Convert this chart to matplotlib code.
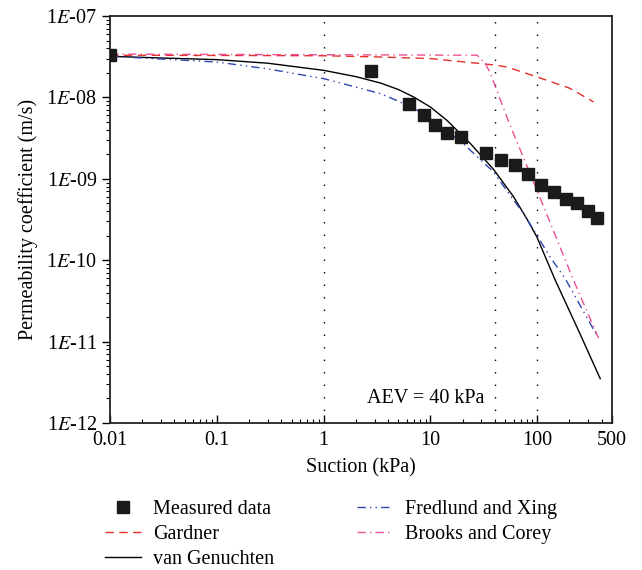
import math
import matplotlib
matplotlib.use("Agg")
import matplotlib.pyplot as plt
import matplotlib.ticker as ticker

plt.rcParams["font.family"] = ["Liberation Serif", "DejaVu Serif"]
plt.rcParams["mathtext.fontset"] = "stix"

# measured data
meas_x = [0.01, 2.75, 6.3, 8.7, 11.0, 14.4, 19.5, 33.4, 45.4, 61.4, 81.2,
          108, 142, 185, 237, 301, 358]
meas_k = [3.3e-8, 2.1e-8, 8.2e-9, 6.0e-9, 4.6e-9, 3.65e-9, 3.26e-9, 2.07e-9,
          1.72e-9, 1.47e-9, 1.16e-9, 8.3e-10, 6.8e-10, 5.7e-10, 5.0e-10,
          4.0e-10, 3.3e-10]

# model curves
gard_x = [0.01, 1, 3, 10, 14.3, 40, 52, 100, 200, 336]
gard_k = [3.3e-8, 3.25e-8, 3.15e-8, 3.0e-8, 2.86e-8, 2.5e-8, 2.36e-8,
          1.78e-8, 1.3e-8, 8.8e-9]

vg_x = [0.01, 0.03, 0.1, 0.3, 1, 2, 3.41, 5, 6.98, 10, 14.3, 23.7, 39, 60,
        80, 99, 147, 250, 388]
vg_k = [3.2e-8, 3.05e-8, 2.91e-8, 2.63e-8, 2.15e-8, 1.8e-8, 1.5e-8, 1.25e-8,
        1.01e-8, 7.6e-9, 5.2e-9, 2.7e-9, 1.3e-9, 6.0e-10, 3.2e-10, 1.93e-10,
        5.7e-11, 1.26e-11, 3.5e-12]

fx_x = [0.01, 0.1, 0.3, 1, 2, 3.41, 5, 8.66, 20.3, 39, 54, 74.5, 132, 183,
        361]
fx_k = [3.2e-8, 2.72e-8, 2.24e-8, 1.7e-8, 1.34e-8, 1.11e-8, 9.0e-9, 6.3e-9,
        2.7e-9, 1.21e-9, 6.6e-10, 3.73e-10, 1.09e-10, 5.9e-11, 1.19e-11]

bc_x = [0.01, 27.3, 32.7, 36.4, 54, 115, 218, 374]
bc_k = [3.4e-8, 3.3e-8, 2.6e-8, 1.96e-8, 5.0e-9, 4.5e-10, 5.7e-11, 1.1e-11]

aev_lines = [1, 40, 100]

fig = plt.figure(figsize=(6.42, 5.70), dpi=100)
ax = fig.add_axes([110 / 642, 1 - 423 / 570, 502 / 642, 407 / 570])

for xv in aev_lines:
    ax.axvline(xv, color="black", linestyle=(0, (1, 8)), linewidth=1.0)

ax.plot(meas_x, meas_k, "s", color="#1a1a1a", markersize=8, label="Measured data",
        zorder=5)
ax.plot(gard_x, gard_k, color="#e2302a", linestyle=(0, (6, 4)), linewidth=1.0,
        label="Gardner")
ax.plot(vg_x, vg_k, color="black", linewidth=1.0, label="van Genuchten")
ax.plot(fx_x, fx_k, color="#2f45b0", linestyle=(0, (6, 3, 1, 3, 1, 3)),
        linewidth=1.0, label="Fredlund and Xing")
ax.plot(bc_x, bc_k, color="#ec4f95", linestyle=(0, (6, 3, 1, 3)), linewidth=1.0,
        label="Brooks and Corey")

ax.set_xscale("log")
ax.set_yscale("log")
ax.set_xlim(0.01, 500)
ax.set_ylim(1e-12, 1e-7)

ax.set_xticks([0.01, 0.1, 1, 10, 100, 500])
ax.set_xticklabels(["0.01", "0.1", "1", "10", "100", "500"])
ax.yaxis.set_major_formatter(ticker.FuncFormatter(
    lambda v, p: "1$\\mathit{E}$-%02d" % round(-math.log10(v))))

ax.tick_params(axis="x", which="both", direction="in", labelsize=14.5, pad=6)
ax.tick_params(axis="y", which="both", direction="out", labelsize=14.5)
ax.tick_params(which="major", length=6, width=1.0)
ax.tick_params(which="minor", length=3, width=0.8)
for s in ax.spines.values():
    s.set_linewidth(1.3)
    s.set_color("#222222")

ax.set_xlabel("Suction (kPa)", fontsize=14.5, labelpad=6)
ax.set_ylabel("Permeability coefficient (m/s)", fontsize=14.5, labelpad=6)

ax.text(2.55, 2.0e-12, "AEV = 40 kPa", fontsize=14.5, va="center", ha="left")

fig.legend(loc="upper left", bbox_to_anchor=(95 / 642, 1 - 490 / 570), ncol=2,
           frameon=False, fontsize=14.5, handlelength=1.8, handletextpad=0.6,
           labelspacing=0.3, columnspacing=4.1, borderpad=0)

fig.savefig("out.png", dpi=100)
